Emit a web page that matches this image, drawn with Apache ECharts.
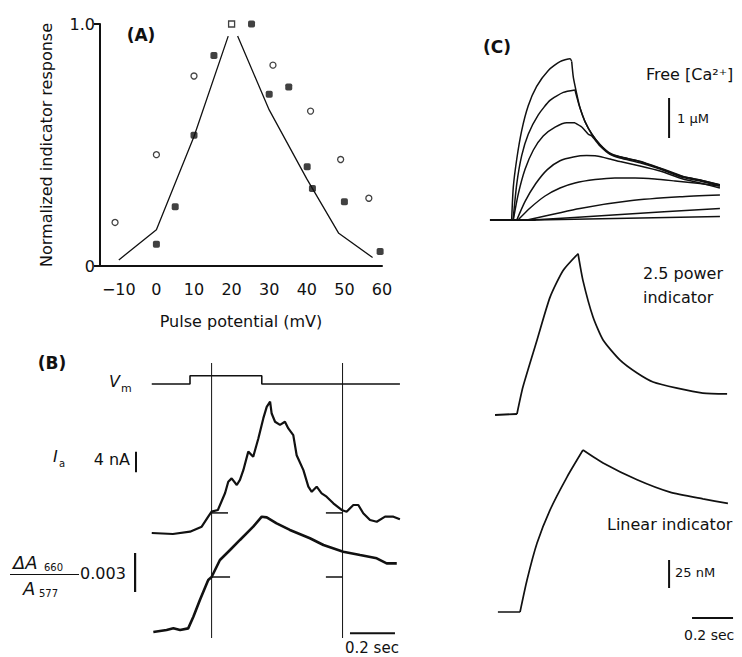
<!DOCTYPE html>
<html><head><meta charset="utf-8">
<script src="https://cdn.jsdelivr.net/npm/echarts@6/dist/echarts.min.js"></script>
<style>html,body{margin:0;padding:0;background:#fff}#c{width:742px;height:657px}</style>
</head><body><div id="c"></div>
<script>
// ---------- Panel A: normalized indicator response vs pulse potential ----------
const aXTicks = [-10, 0, 10, 20, 30, 40, 50, 60];
const aOpenCircles = [[-11,0.18],[0,0.46],[10,0.785],[31,0.83],[41,0.64],[49,0.44],[56.5,0.28]];
const aOpenSquare = [[20,1.0]];
const aFilled = [[0,0.09],[5,0.245],[10,0.54],[15.3,0.87],[25.3,1.0],[30,0.71],[35.2,0.74],[40.1,0.41],[41.5,0.32],[50,0.265],[59.5,0.06]];
const aLineLeft = [[-10,0.025],[0,0.15],[10,0.535],[19.1,0.95]];
const aLineRight = [[21.6,0.95],[30,0.645],[40,0.36],[48.5,0.135],[57.5,0.035]];

// ---------- Panel B: time (s) from pulse onset ----------
const bVm = [[-0.17,0],[0,0],[0,1],[0.319,1],[0.319,0],[0.933,0]];
const bIa = [[-0.17,0],[-0.076,-0.19],[0,0.25],[0.052,1.22],[0.081,3.17],[0.096,4.14],[0.124,4.47],[0.156,7.77],[0.17,9.96],[0.185,10.6],[0.208,9.32],[0.222,10.3],[0.237,12.2],[0.259,15.8],[0.281,14.8],[0.304,18.4],[0.326,22.3],[0.341,24.5],[0.356,25.5],[0.363,23.2],[0.378,21.6],[0.4,21.0],[0.422,21.6],[0.437,20.3],[0.459,19.0],[0.474,15.1],[0.504,12.2],[0.526,9.0],[0.541,8.0],[0.563,9.0],[0.585,7.7],[0.607,7.05],[0.637,5.77],[0.674,4.47],[0.696,4.14],[0.726,5.44],[0.748,5.44],[0.77,3.83],[0.8,2.52],[0.83,2.19],[0.867,3.17],[0.904,3.17],[0.933,2.66]];
const bDA = [[-0.163,0],[-0.104,0.00015],[-0.074,0.00028],[-0.044,0.00015],[-0.008,0.00028],[0.015,0.00118],[0.044,0.00246],[0.081,0.0040],[0.096,0.00423],[0.133,0.00554],[0.178,0.00631],[0.222,0.00708],[0.281,0.0081],[0.319,0.00887],[0.341,0.00882],[0.385,0.00836],[0.444,0.00785],[0.533,0.00721],[0.593,0.00669],[0.681,0.00618],[0.756,0.00592],[0.83,0.00567],[0.874,0.00528],[0.919,0.00528]];
const bMarkTimes = [0.096, 0.678];
const bIaTicks = [[[0.096,3.9],[0.169,3.9]], [[0.604,3.9],[0.678,3.9]]];
const bDATicks = [[[0.096,0.00423],[0.178,0.00423]], [[0.604,0.00423],[0.678,0.00423]]];
const bBarIa = [[-0.24,11.8],[-0.24,15.8]];          // 4 nA
const bBarDA = [[-0.244,0.00308],[-0.244,0.00608]];  // 0.003
const bBarTime = [[0.711,-0.0001],[0.911,-0.0001]];  // 0.2 sec

// ---------- Panel C: simulated free Ca (uM) and indicator signals (nM) ----------
const cBase = [[-0.098,0],[0.125,0]];
const cCa1Rise = [[0.008,0],[0.016,0.815],[0.033,1.525],[0.057,2.235],[0.089,2.855],[0.13,3.34],[0.187,3.74],[0.244,3.96],[0.293,4.03],[0.301,3.96]];
const cCa1Fall = [[0.301,3.96],[0.309,3.565],[0.325,3.165],[0.341,2.81],[0.366,2.455],[0.399,2.145],[0.439,1.88],[0.488,1.66],[0.537,1.575],[0.634,1.46],[0.732,1.29],[0.845,1.08],[0.927,1.0],[1.024,0.875]];
const cCa2Rise = [[0.015,0],[0.033,0.905],[0.057,1.61],[0.089,2.145],[0.138,2.63],[0.195,2.99],[0.26,3.19],[0.317,3.25]];
const cCa2Fall = [[0.317,3.25],[0.333,2.94],[0.341,2.81],[0.366,2.46],[0.399,2.15],[0.439,1.89],[0.488,1.67],[0.537,1.58],[0.634,1.47],[0.732,1.3],[0.845,1.09],[0.927,1.0],[1.024,0.88]];
const cCa3Rise = [[0.016,0],[0.04,0.64],[0.073,1.26],[0.114,1.75],[0.162,2.1],[0.22,2.32],[0.277,2.43],[0.317,2.43]];
const cCa3Fall = [[0.317,2.43],[0.35,2.325],[0.382,2.145],[0.399,2.1],[0.439,1.85],[0.488,1.64],[0.537,1.55],[0.634,1.43],[0.732,1.275],[0.844,1.06],[0.927,0.975],[1.024,0.85]];
const cCa4 = [[0.033,0],[0.073,0.46],[0.125,0.905],[0.182,1.26],[0.244,1.48],[0.309,1.575],[0.374,1.61],[0.423,1.6],[0.488,1.525],[0.537,1.46],[0.634,1.35],[0.732,1.225],[0.844,1.025],[0.927,0.925],[1.024,0.8]];
const cCa5 = [[0.039,0],[0.098,0.3],[0.171,0.6],[0.244,0.8],[0.317,0.925],[0.415,1.01],[0.512,1.05],[0.61,1.05],[0.707,1.025],[0.805,0.975],[0.927,0.91],[1.024,0.85]];
const cCa6 = [[0.083,0],[0.341,0.29],[0.585,0.48],[0.829,0.58],[1.024,0.625]];
const cCa7 = [[0.107,0],[0.502,0.125],[1.024,0.29]];
const cCa8 = [[0.122,0],[1.024,0.09]];
const cPowerBase = [[-0.073,0],[0.034,0.9]];
const cPowerRise = [[0.034,0.9],[0.063,25],[0.132,67],[0.195,105],[0.259,129],[0.332,144]];
const cPowerFall = [[0.332,144],[0.356,120],[0.405,87.5],[0.454,67],[0.537,49],[0.62,37.5],[0.698,29.5],[0.815,24],[0.941,19.6],[1.059,18.8]];
const cLinearBase = [[-0.059,0],[0.049,0]];
const cLinearRise = [[0.049,0],[0.083,28.6],[0.132,61.6],[0.195,91],[0.278,120.5],[0.356,144.6]];
const cLinearFall = [[0.356,144.6],[0.454,133],[0.62,118],[0.78,107],[0.941,101],[1.063,97]];
const cBarCa = [[0.776,2.05],[0.776,3.05]];     // 1 uM
const cBarNM = [[0.776,21.4],[0.776,46.4]];     // 25 nM
const cBarTime = [[0.888,-5.4],[1.088,-5.4]];   // 0.2 sec

const INK = '#111';
const FONT = 'DejaVu Sans';

const chart = echarts.init(document.getElementById('c'), null, {renderer: 'svg'});

const hiddenX = (min, max, g) => ({type:'value', gridIndex:g, min, max, show:false});
const hiddenY = (min, max, g) => ({type:'value', gridIndex:g, min, max, show:false});

function line(data, xi, yi, w, extra) {
  return Object.assign({type:'line', xAxisIndex:xi, yAxisIndex:yi, data, showSymbol:false, symbol:'none',
    lineStyle:{color:INK, width:w}, silent:true, animation:false}, extra || {});
}
function curve(data, xi, yi, w) {
  return line(data, xi, yi, w, {smooth:0.2});
}

function txt(text, x, y, size, opts) {
  opts = opts || {};
  return {type:'text', x, y, silent:true, style:{text, fill:INK, fontSize:size, fontFamily:FONT,
    fontWeight: opts.bold ? 'bold' : 'normal', fontStyle: opts.italic ? 'italic' : 'normal',
    textAlign: opts.align || 'left', align: opts.align || 'left',
    textVerticalAlign:'middle', verticalAlign:'middle'}};
}

const grids = [
  {left:100, top:24, width:282, height:242},          // 0 A
  {left:127, top:367.4, width:274.5, height:24.9},    // 1 Vm
  {left:127, top:388.8, width:274.5, height:154.5},   // 2 Ia
  {left:127, top:476, width:274.5, height:166.4},     // 3 dA
  {left:127, top:363, width:274.5, height:275},       // 4 frame
  {left:489.5, top:20, width:246, height:220},        // 5 Ca
  {left:489.5, top:235.8, width:246, height:190.4},   // 6 power
  {left:489.5, top:432.8, width:246, height:201.6}    // 7 linear
];

const xAxes = [
  {type:'value', gridIndex:0, min:-15, max:60,
   axisLine:{show:true, onZero:false, lineStyle:{color:INK, width:2}},
   axisTick:{show:false}, splitLine:{show:false},
   axisLabel:{customValues:aXTicks, color:INK, fontSize:16, fontFamily:FONT, margin:15,
     formatter: v => v < 0 ? '\u2212' + Math.abs(v) : String(v)},
   name:'Pulse potential (mV)', nameLocation:'middle', nameGap:47,
   nameTextStyle:{color:INK, fontSize:16, fontFamily:FONT}},
  hiddenX(-0.28, 0.94, 1), hiddenX(-0.28, 0.94, 2), hiddenX(-0.28, 0.94, 3), hiddenX(-0.28, 0.94, 4),
  hiddenX(-0.1, 1.1, 5), hiddenX(-0.1, 1.1, 6), hiddenX(-0.1, 1.1, 7)
];
const yAxes = [
  {type:'value', gridIndex:0, min:0, max:1, interval:1,
   axisLine:{show:true, onZero:false, lineStyle:{color:INK, width:2}},
   axisTick:{show:true, length:6, lineStyle:{color:INK, width:2}}, splitLine:{show:false},
   axisLabel:{color:INK, fontSize:16, fontFamily:FONT, margin:5, formatter: v => v === 1 ? '1.0' : '0'},
   name:'Normalized indicator response', nameLocation:'middle', nameGap:46,
   nameTextStyle:{color:INK, fontSize:16, fontFamily:FONT}},
  hiddenY(-1, 2, 1), hiddenY(-2, 28, 2), hiddenY(-0.0008, 0.012, 3), hiddenY(0, 1, 4),
  hiddenY(-0.5, 5, 5), hiddenY(-10, 160, 6), hiddenY(-20, 160, 7)
];

const series = [
  line(aLineLeft, 0, 0, 1.3),
  line(aLineRight, 0, 0, 1.3),
  {type:'scatter', xAxisIndex:0, yAxisIndex:0, data:aOpenCircles, symbol:'circle', symbolSize:6,
   itemStyle:{color:'#fff', borderColor:INK, borderWidth:1.3}, silent:true, animation:false, z:5},
  {type:'scatter', xAxisIndex:0, yAxisIndex:0, data:aOpenSquare, symbol:'rect', symbolSize:6,
   itemStyle:{color:'#fff', borderColor:INK, borderWidth:1.3}, silent:true, animation:false, z:5},
  {type:'scatter', xAxisIndex:0, yAxisIndex:0, data:aFilled, symbol:'roundRect', symbolSize:7,
   itemStyle:{color:INK}, silent:true, animation:false, z:5},

  line(bVm, 1, 1, 1.6),
  line(bIa, 2, 2, 2.2),
  line(bDA, 3, 3, 2.6),
  line(bBarIa, 2, 2, 2),
  line(bBarDA, 3, 3, 2.2),
  line(bBarTime, 3, 3, 2),
  ...bIaTicks.map(d => line(d, 2, 2, 1.5)),
  ...bDATicks.map(d => line(d, 3, 3, 1.5)),
  ...bMarkTimes.map(t => line([[t,0],[t,1]], 4, 4, 1)),

  line(cBase, 5, 5, 2.2),
  ...[cCa1Rise, cCa1Fall, cCa2Rise, cCa2Fall, cCa3Rise, cCa3Fall, cCa4, cCa5, cCa6, cCa7, cCa8]
      .map(d => curve(d, 5, 5, 1.5)),
  line(cBarCa, 5, 5, 2),
  line(cPowerBase, 6, 6, 1.9),
  curve(cPowerRise, 6, 6, 1.7),
  curve(cPowerFall, 6, 6, 1.7),
  line(cLinearBase, 7, 7, 1.7),
  curve(cLinearRise, 7, 7, 1.7),
  curve(cLinearFall, 7, 7, 1.7),
  line(cBarNM, 7, 7, 2),
  line(cBarTime, 7, 7, 2)
];

const graphic = [
  txt('(A)', 141, 35, 17, {bold:true, align:'center'}),
  txt('(B)', 52, 363, 17, {bold:true, align:'center'}),
  txt('V', 109, 381, 16, {italic:true}),
  txt('m', 121, 388, 11),
  txt('I', 53, 456, 16, {italic:true}),
  txt('a', 59, 463, 10),
  txt('4 nA', 130, 459, 16, {align:'right'}),
  txt('\u0394A', 13, 562, 18, {italic:true}),
  txt('660', 44, 567, 10),
  {type:'line', silent:true, shape:{x1:10, y1:574.5, x2:79, y2:574.5}, style:{stroke:INK, lineWidth:1.2}},
  txt('A', 23, 588, 18, {italic:true}),
  txt('577', 39, 593, 10),
  txt('0.003', 80, 573, 16),
  txt('0.2 sec', 345, 648, 15),
  txt('(C)', 497, 47, 17, {bold:true, align:'center'}),
  txt('Free [Ca\u00B2\u207A]', 646, 74, 16),
  txt('1 \u03BCM', 677, 118, 13),
  txt('2.5 power', 643, 273, 16),
  txt('indicator', 643, 297, 16),
  txt('Linear indicator', 607, 524, 16),
  txt('25 nM', 675, 572, 13),
  txt('0.2 sec', 684, 635, 14)
];

chart.setOption({
  animation:false,
  backgroundColor:'#fff',
  grid: grids,
  xAxis: xAxes,
  yAxis: yAxes,
  series,
  graphic
});
</script>
</body></html>
